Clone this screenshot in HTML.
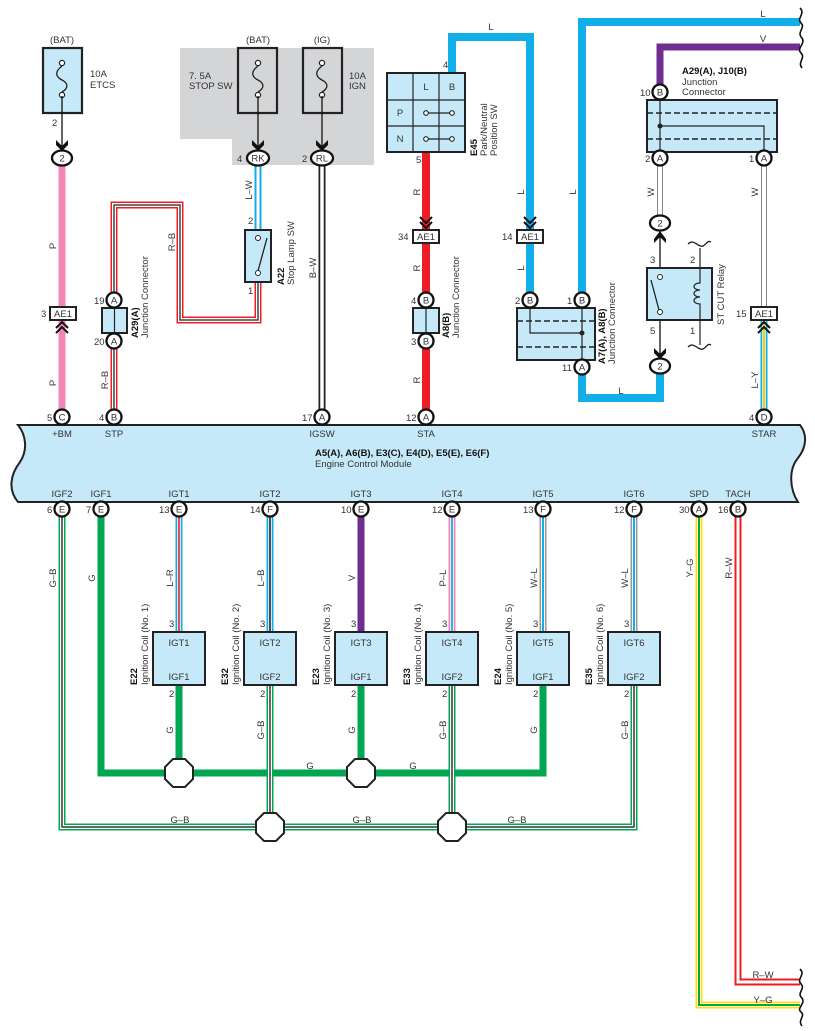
<!DOCTYPE html>
<html><head><meta charset="utf-8"><style>
html,body{margin:0;padding:0;background:#fff}
svg{display:block}
text{font-family:"Liberation Sans",sans-serif;fill:#333;font-size:9.5px}
.b{font-weight:bold;fill:#111}
.c{text-anchor:middle}
</style></head><body>
<svg width="815" height="1031" viewBox="0 0 815 1031" xmlns="http://www.w3.org/2000/svg">
<defs>
<g id="fuse"><circle cx="0" cy="-17" r="2.6" fill="#fff" stroke="#222" stroke-width="1.2"/><circle cx="0" cy="15" r="2.6" fill="#fff" stroke="#222" stroke-width="1.2"/><path d="M0 -14 C-8 -8 -6 -3 0 0 C6 3 7 8 0 12" fill="none" stroke="#222" stroke-width="1.3"/></g>
<g id="arr"><polygon points="-6,-10 0,-4 6,-10 6,-5 0,1 -6,-5" fill="#111"/></g>
<g id="chevU"><path d="M-6 6 L0 0 L6 6 M-6 11 L0 5 L6 11" fill="none" stroke="#111" stroke-width="2"/></g>
<g id="chevD"><path d="M-6 -6 L0 0 L6 -6 M-6 -11 L0 -5 L6 -11" fill="none" stroke="#111" stroke-width="2"/></g>
<polygon id="oct" points="-6,-14 6,-14 14,-6 14,6 6,14 -6,14 -14,6 -14,-6" fill="#fff" stroke="#222" stroke-width="2"/>
</defs>

<!-- gray area -->
<polygon points="180,48 374,48 374,165 232,165 232,139 180,139" fill="#d4d5d7"/>

<!-- fuses -->
<text x="62" y="43" class="c">(BAT)</text>
<rect x="43" y="48" width="39" height="65" fill="#c6e9f9" stroke="#222" stroke-width="2.2"/>
<use href="#fuse" x="62" y="80"/>
<text x="90" y="77">10A</text><text x="90" y="88">ETCS</text>
<text x="258" y="43" class="c">(BAT)</text>
<rect x="238" y="48" width="39" height="65" fill="#d4d5d7" stroke="#222" stroke-width="2.2"/>
<use href="#fuse" x="258" y="80"/>
<text x="189" y="79">7. 5A</text><text x="189" y="89">STOP SW</text>
<text x="322" y="43" class="c">(IG)</text>
<rect x="303" y="48" width="39" height="65" fill="#d4d5d7" stroke="#222" stroke-width="2.2"/>
<use href="#fuse" x="322" y="80"/>
<text x="349" y="79">10A</text><text x="349" y="89">IGN</text>

<g stroke="#111" stroke-width="1.3">
<line x1="62" y1="96" x2="62" y2="146"/><line x1="258" y1="96" x2="258" y2="146"/><line x1="322" y1="96" x2="322" y2="146"/>
</g>
<use href="#arr" x="62" y="150"/><use href="#arr" x="258" y="150"/><use href="#arr" x="322" y="150"/>
<text x="52" y="126">2</text>

<!-- WIRES -->
<g fill="none" stroke-linejoin="miter">
<!-- P -->
<path d="M62 166 V409" stroke="#f286b6" stroke-width="7"/>
<!-- R-B -->
<path d="M258 282 V320 H180 V205 H114 V292 M114 349 V409" stroke="#ee1c25" stroke-width="7"/>
<path d="M258 282 V320 H180 V205 H114 V292 M114 349 V409" stroke="#fff" stroke-width="4"/>
<path d="M258 282 V320 H180 V205 H114 V292 M114 349 V409" stroke="#444" stroke-width="1.5"/>
<!-- L-W -->
<path d="M258 166 V230" stroke="#12aee8" stroke-width="7"/><path d="M258 166 V230" stroke="#fff" stroke-width="3"/>
<!-- B-W -->
<path d="M322 166 V409" stroke="#222" stroke-width="7"/><path d="M322 166 V409" stroke="#fff" stroke-width="3.5"/>
<!-- R -->
<path d="M426 152 V230 M426 243 V292 M426 349 V409" stroke="#ee1c25" stroke-width="8"/>
<!-- L -->
<path d="M452 73 V37 H530 V230 M530 243 V292" stroke="#12aee8" stroke-width="8"/>
<path d="M582 292 V22 H800" stroke="#12aee8" stroke-width="8"/>
<path d="M582 375 V398 H660 V374" stroke="#12aee8" stroke-width="8"/>
<!-- V -->
<path d="M660 84 V47 H800" stroke="#6f2c91" stroke-width="7"/>
<!-- W -->
<path d="M660 166 V215 M764 166 V307" stroke="#888" stroke-width="6"/>
<path d="M660 166 V215 M764 166 V307" stroke="#fff" stroke-width="4"/>
<!-- L-Y -->
<path d="M764 320 V409" stroke="#12aee8" stroke-width="7"/><path d="M764 320 V409" stroke="#fff" stroke-width="3.5"/><path d="M764 320 V409" stroke="#f5d000" stroke-width="2"/>

<!-- G -->
<path d="M101 517 V773 H543 V685 M179 685 V773 M361 685 V773" stroke="#00a651" stroke-width="7"/>
<!-- G-B -->
<path d="M62 517 V827 H634 V685 M270 685 V827 M452 685 V827" stroke="#00a651" stroke-width="7"/>
<path d="M62 517 V827 H634 V685 M270 685 V827 M452 685 V827" stroke="#fff" stroke-width="4"/>
<path d="M62 517 V827 H634 V685 M270 685 V827 M452 685 V827" stroke="#333" stroke-width="1.5"/>
<!-- coil wires -->
<path d="M179 517 V632" stroke="#12aee8" stroke-width="7"/><path d="M179 517 V632" stroke="#fff" stroke-width="3.5"/><path d="M179 517 V632" stroke="#ee1c25" stroke-width="1.6"/>
<path d="M270 517 V632" stroke="#12aee8" stroke-width="7"/><path d="M270 517 V632" stroke="#fff" stroke-width="3.5"/><path d="M270 517 V632" stroke="#222" stroke-width="1.6"/>
<path d="M361 517 V632" stroke="#6f2c91" stroke-width="7"/>
<path d="M452 517 V632" stroke="#f286b6" stroke-width="7"/><path d="M452 517 V632" stroke="#fff" stroke-width="3.5"/><path d="M452 517 V632" stroke="#12aee8" stroke-width="1.8"/>
<path d="M543 517 V632 M634 517 V632" stroke="#999" stroke-width="7"/><path d="M543 517 V632 M634 517 V632" stroke="#fff" stroke-width="4"/><path d="M543 517 V632 M634 517 V632" stroke="#12aee8" stroke-width="2"/>
<!-- Y-G, R-W -->
<path d="M699 517 V1005 H800" stroke="#ffe000" stroke-width="7"/><path d="M699 517 V1005 H800" stroke="#fff" stroke-width="3.5"/><path d="M699 517 V1005 H800" stroke="#00a651" stroke-width="2"/>
<path d="M738 517 V982 H800" stroke="#ee1c25" stroke-width="7"/><path d="M738 517 V982 H800" stroke="#fff" stroke-width="3"/>
<!-- squiggles -->
<path d="M800 8 C806 14 796 18 801 23 C806 28 796 32 802 38 C806 44 796 48 801 53 C806 58 797 62 802 68" stroke="#111" stroke-width="1.6"/>
<path d="M800 969 C806 975 796 979 801 984 C806 989 796 993 802 998 C806 1004 796 1008 801 1012 C806 1016 797 1020 802 1026" stroke="#111" stroke-width="1.6"/>
</g>

<!-- wire labels -->
<g>
<text transform="translate(56,246) rotate(-90)" class="c">P</text>
<text transform="translate(56,383) rotate(-90)" class="c">P</text>
<text transform="translate(252,190) rotate(-90)" class="c">L–W</text>
<text transform="translate(175,242) rotate(-90)" class="c">R–B</text>
<text transform="translate(108,380) rotate(-90)" class="c">R–B</text>
<text transform="translate(316,268) rotate(-90)" class="c">B–W</text>
<text transform="translate(420,192) rotate(-90)" class="c">R</text>
<text transform="translate(420,268) rotate(-90)" class="c">R</text>
<text transform="translate(420,380) rotate(-90)" class="c">R</text>
<text transform="translate(524,192) rotate(-90)" class="c">L</text>
<text transform="translate(524,268) rotate(-90)" class="c">L</text>
<text transform="translate(576,192) rotate(-90)" class="c">L</text>
<text x="491" y="30" class="c">L</text>
<text x="763" y="17" class="c">L</text>
<text x="763" y="42" class="c">V</text>
<text x="621" y="394" class="c">L</text>
<text transform="translate(654,192) rotate(-90)" class="c">W</text>
<text transform="translate(758,192) rotate(-90)" class="c">W</text>
<text transform="translate(758,380) rotate(-90)" class="c">L–Y</text>
<text transform="translate(56,578) rotate(-90)" class="c">G–B</text>
<text transform="translate(95,578) rotate(-90)" class="c">G</text>
<text transform="translate(173,578) rotate(-90)" class="c">L–R</text>
<text transform="translate(264,578) rotate(-90)" class="c">L–B</text>
<text transform="translate(355,578) rotate(-90)" class="c">V</text>
<text transform="translate(446,578) rotate(-90)" class="c">P–L</text>
<text transform="translate(537,578) rotate(-90)" class="c">W–L</text>
<text transform="translate(628,578) rotate(-90)" class="c">W–L</text>
<text transform="translate(693,568) rotate(-90)" class="c">Y–G</text>
<text transform="translate(732,568) rotate(-90)" class="c">R–W</text>
<text transform="translate(173,730) rotate(-90)" class="c">G</text>
<text transform="translate(264,730) rotate(-90)" class="c">G–B</text>
<text transform="translate(355,730) rotate(-90)" class="c">G</text>
<text transform="translate(446,730) rotate(-90)" class="c">G–B</text>
<text transform="translate(537,730) rotate(-90)" class="c">G</text>
<text transform="translate(628,730) rotate(-90)" class="c">G–B</text>
<text x="310" y="769" class="c">G</text><text x="413" y="769" class="c">G</text>
<text x="180" y="823" class="c">G–B</text><text x="362" y="823" class="c">G–B</text><text x="517" y="823" class="c">G–B</text>
<text x="763" y="978" class="c">R–W</text><text x="763" y="1003" class="c">Y–G</text>
</g>

<!-- octagons -->
<use href="#oct" x="179" y="773"/><use href="#oct" x="361" y="773"/>
<use href="#oct" x="270" y="827"/><use href="#oct" x="452" y="827"/>

<!-- A22 stop lamp sw -->
<rect x="245" y="230" width="26" height="52" fill="#c6e9f9" stroke="#222" stroke-width="2"/>
<circle cx="258" cy="238" r="2.5" fill="#fff" stroke="#222"/><circle cx="258" cy="273" r="2.5" fill="#fff" stroke="#222"/>
<line x1="258" y1="271" x2="267" y2="238" stroke="#222" stroke-width="1.3"/>
<text x="248" y="224">2</text><text x="248" y="294">1</text>
<text transform="translate(284,285) rotate(-90)" class="b">A22</text>
<text transform="translate(294,285) rotate(-90)">Stop Lamp SW</text>

<!-- A29(A) -->
<rect x="102" y="308" width="25" height="25" fill="#c6e9f9" stroke="#222" stroke-width="2"/>
<line x1="114.5" y1="308" x2="114.5" y2="333" stroke="#222" stroke-width="1.2"/>
<text transform="translate(138,338) rotate(-90)" class="b">A29(A)</text>
<text transform="translate(148,338) rotate(-90)">Junction Connector</text>

<!-- A8(B) -->
<rect x="413" y="308" width="26" height="25" fill="#c6e9f9" stroke="#222" stroke-width="2"/>
<line x1="426" y1="308" x2="426" y2="333" stroke="#222" stroke-width="1.2"/>
<text transform="translate(449,338) rotate(-90)" class="b">A8(B)</text>
<text transform="translate(459,338) rotate(-90)">Junction Connector</text>

<!-- E45 -->
<rect x="387" y="73" width="78" height="79" fill="#c6e9f9" stroke="#222" stroke-width="2"/>
<path d="M413 73 V152 M439 73 V152 M387 100 H465 M387 126 H465" stroke="#222" stroke-width="1.2"/>
<text x="426" y="90" class="c">L</text><text x="452" y="90" class="c">B</text>
<text x="400" y="116" class="c">P</text><text x="400" y="142" class="c">N</text>
<path d="M426 113 H452 M426 139 H452" stroke="#222" stroke-width="1.2"/>
<g fill="#fff" stroke="#222" stroke-width="1.1"><circle cx="426" cy="113" r="2.3"/><circle cx="452" cy="113" r="2.3"/><circle cx="426" cy="139" r="2.3"/><circle cx="452" cy="139" r="2.3"/></g>
<text x="443" y="68">4</text><text x="416" y="163">5</text>
<text transform="translate(477,156) rotate(-90)" class="b">E45</text>
<text transform="translate(487,156) rotate(-90)">Park/Neutral</text>
<text transform="translate(497,156) rotate(-90)">Position SW</text>

<!-- A7/A8 junction -->
<rect x="517" y="308" width="78" height="52" fill="#c6e9f9" stroke="#222" stroke-width="2"/>
<path d="M517 321 H595 M517 347 H595" stroke="#222" stroke-width="1.5" stroke-dasharray="6,3"/>
<path d="M530 308 V333 H582 M582 308 V360" stroke="#222" stroke-width="1.2" fill="none"/>
<circle cx="582" cy="333" r="2.5" fill="#222"/>
<text transform="translate(605,364) rotate(-90)" class="b">A7(A), A8(B)</text>
<text transform="translate(615,364) rotate(-90)">Junction Connector</text>

<!-- A29/J10 junction -->
<rect x="647" y="100" width="130" height="52" fill="#c6e9f9" stroke="#222" stroke-width="2"/>
<path d="M647 113 H777 M647 139 H777" stroke="#222" stroke-width="1.5" stroke-dasharray="6,3"/>
<path d="M660 100 V152 M660 126 H764 V152" stroke="#222" stroke-width="1.2" fill="none"/>
<circle cx="660" cy="126" r="2.5" fill="#222"/>
<text x="682" y="74" class="b">A29(A), J10(B)</text>
<text x="682" y="85">Junction</text><text x="682" y="95">Connector</text>

<!-- ST CUT relay -->
<line x1="660" y1="231" x2="660" y2="268" stroke="#111" stroke-width="1.3"/>
<polygon points="654,243 660,237 666,243 666,239 660,231 654,239" fill="#111"/>
<line x1="660" y1="320" x2="660" y2="356" stroke="#111" stroke-width="1.3"/>
<use href="#arr" x="660" y="358"/>
<rect x="647" y="268" width="65" height="52" fill="#c6e9f9" stroke="#222" stroke-width="2"/>
<circle cx="660" cy="277" r="2.5" fill="#fff" stroke="#222"/><circle cx="660" cy="312" r="2.5" fill="#fff" stroke="#222"/>
<line x1="651" y1="280" x2="659" y2="310" stroke="#222" stroke-width="1.3"/>
<path d="M700 248 V283 C692 283 692 290 700 290 C692 290 692 297 700 297 C692 297 692 304 700 304 V345" fill="none" stroke="#222" stroke-width="1.2"/>
<path d="M688 244 C694 238 698 248 703 246 C707 244 707 240 711 242" fill="none" stroke="#222" stroke-width="1.3"/>
<path d="M688 347 C694 341 698 351 703 349 C707 347 707 343 711 345" fill="none" stroke="#222" stroke-width="1.3"/>
<text x="650" y="263">3</text><text x="690" y="263">2</text><text x="650" y="334">5</text><text x="690" y="334">1</text>
<text transform="translate(724,325) rotate(-90)">ST CUT Relay</text>

<!-- AE1 boxes + chevrons -->
<g fill="#fff" stroke="#222" stroke-width="2">
<rect x="50" y="307" width="26" height="13"/><rect x="413" y="230" width="26" height="13"/>
<rect x="517" y="230" width="26" height="13"/><rect x="751" y="307" width="26" height="13"/>
</g>
<text x="63" y="317" class="c">AE1</text><text x="426" y="240" class="c">AE1</text>
<text x="530" y="240" class="c">AE1</text><text x="764" y="317" class="c">AE1</text>
<text x="41" y="317">3</text><text x="398" y="240">34</text><text x="502" y="240">14</text><text x="736" y="317">15</text>
<use href="#chevU" x="62" y="322"/><use href="#chevU" x="764" y="322"/>
<use href="#chevD" x="426" y="228"/><use href="#chevD" x="530" y="228"/>

<!-- ECM -->
<path d="M18 425 L800 425 C808 435 806 448 798 458 C788 470 790 490 798 502 L18 502 C8 490 10 475 20 462 C28 450 26 435 18 425 Z" fill="#c6e9f9" stroke="#222" stroke-width="2"/>
<text x="315" y="456" class="b">A5(A), A6(B), E3(C), E4(D), E5(E), E6(F)</text>
<text x="315" y="467">Engine Control Module</text>
<g class="c">
<text x="62" y="437" class="c">+BM</text><text x="114" y="437" class="c">STP</text><text x="322" y="437" class="c">IGSW</text>
<text x="426" y="437" class="c">STA</text><text x="764" y="437" class="c">STAR</text>
<text x="62" y="497" class="c">IGF2</text><text x="101" y="497" class="c">IGF1</text><text x="179" y="497" class="c">IGT1</text>
<text x="270" y="497" class="c">IGT2</text><text x="361" y="497" class="c">IGT3</text><text x="452" y="497" class="c">IGT4</text>
<text x="543" y="497" class="c">IGT5</text><text x="634" y="497" class="c">IGT6</text><text x="699" y="497" class="c">SPD</text><text x="738" y="497" class="c">TACH</text>
</g>

<!-- coils -->
<g>
<rect x="153" y="632" width="52" height="53" fill="#c6e9f9" stroke="#222" stroke-width="2"/>
<rect x="244" y="632" width="52" height="53" fill="#c6e9f9" stroke="#222" stroke-width="2"/>
<rect x="335" y="632" width="52" height="53" fill="#c6e9f9" stroke="#222" stroke-width="2"/>
<rect x="426" y="632" width="52" height="53" fill="#c6e9f9" stroke="#222" stroke-width="2"/>
<rect x="517" y="632" width="52" height="53" fill="#c6e9f9" stroke="#222" stroke-width="2"/>
<rect x="608" y="632" width="52" height="53" fill="#c6e9f9" stroke="#222" stroke-width="2"/>
<text x="179" y="646" class="c">IGT1</text><text x="179" y="680" class="c">IGF1</text>
<text x="270" y="646" class="c">IGT2</text><text x="270" y="680" class="c">IGF2</text>
<text x="361" y="646" class="c">IGT3</text><text x="361" y="680" class="c">IGF1</text>
<text x="452" y="646" class="c">IGT4</text><text x="452" y="680" class="c">IGF2</text>
<text x="543" y="646" class="c">IGT5</text><text x="543" y="680" class="c">IGF1</text>
<text x="634" y="646" class="c">IGT6</text><text x="634" y="680" class="c">IGF2</text>
<text x="169" y="627">3</text><text x="169" y="697">2</text>
<text x="260" y="627">3</text><text x="260" y="697">2</text>
<text x="351" y="627">3</text><text x="351" y="697">2</text>
<text x="442" y="627">3</text><text x="442" y="697">2</text>
<text x="533" y="627">3</text><text x="533" y="697">2</text>
<text x="624" y="627">3</text><text x="624" y="697">2</text>
<text transform="translate(137,685) rotate(-90)" class="b">E22</text><text transform="translate(148,685) rotate(-90)">Ignition Coil (No. 1)</text>
<text transform="translate(228,685) rotate(-90)" class="b">E32</text><text transform="translate(239,685) rotate(-90)">Ignition Coil (No. 2)</text>
<text transform="translate(319,685) rotate(-90)" class="b">E23</text><text transform="translate(330,685) rotate(-90)">Ignition Coil (No. 3)</text>
<text transform="translate(410,685) rotate(-90)" class="b">E33</text><text transform="translate(421,685) rotate(-90)">Ignition Coil (No. 4)</text>
<text transform="translate(501,685) rotate(-90)" class="b">E24</text><text transform="translate(512,685) rotate(-90)">Ignition Coil (No. 5)</text>
<text transform="translate(592,685) rotate(-90)" class="b">E35</text><text transform="translate(603,685) rotate(-90)">Ignition Coil (No. 6)</text>
</g>

<!-- connector circles -->
<g fill="#fff" stroke="#111" stroke-width="2.3">
<ellipse cx="62" cy="158" rx="10" ry="7.5"/><ellipse cx="258" cy="158" rx="11" ry="7.5"/><ellipse cx="322" cy="158" rx="11" ry="7.5"/>
<circle cx="114" cy="300" r="7.5"/><circle cx="114" cy="341" r="7.5"/>
<circle cx="426" cy="300" r="7.5"/><circle cx="426" cy="341" r="7.5"/>
<circle cx="530" cy="300" r="7.5"/><circle cx="582" cy="300" r="7.5"/><circle cx="582" cy="367" r="7.5"/>
<circle cx="660" cy="92" r="7.5"/><circle cx="660" cy="158" r="7.5"/><circle cx="764" cy="158" r="7.5"/>
<ellipse cx="660" cy="223" rx="10" ry="7.5"/><ellipse cx="660" cy="366" rx="10" ry="7.5"/>
<circle cx="62" cy="417" r="7.5"/><circle cx="114" cy="417" r="7.5"/><circle cx="322" cy="417" r="7.5"/><circle cx="426" cy="417" r="7.5"/><circle cx="764" cy="417" r="7.5"/>
<circle cx="62" cy="509" r="7.5"/><circle cx="101" cy="509" r="7.5"/><circle cx="179" cy="509" r="7.5"/><circle cx="270" cy="509" r="7.5"/>
<circle cx="361" cy="509" r="7.5"/><circle cx="452" cy="509" r="7.5"/><circle cx="543" cy="509" r="7.5"/><circle cx="634" cy="509" r="7.5"/>
<circle cx="699" cy="509" r="7.5"/><circle cx="738" cy="509" r="7.5"/>
</g>
<g style="font-size:9px">
<text x="62" y="161.5" class="c">2</text><text x="258" y="161.5" class="c">RK</text><text x="322" y="161.5" class="c">RL</text>
<text x="114" y="303.5" class="c">A</text><text x="114" y="344.5" class="c">A</text>
<text x="426" y="303.5" class="c">B</text><text x="426" y="344.5" class="c">B</text>
<text x="530" y="303.5" class="c">B</text><text x="582" y="303.5" class="c">B</text><text x="582" y="370.5" class="c">A</text>
<text x="660" y="95.5" class="c">B</text><text x="660" y="161.5" class="c">A</text><text x="764" y="161.5" class="c">A</text>
<text x="660" y="226.5" class="c">2</text><text x="660" y="369.5" class="c">2</text>
<text x="62" y="420.5" class="c">C</text><text x="114" y="420.5" class="c">B</text><text x="322" y="420.5" class="c">A</text><text x="426" y="420.5" class="c">A</text><text x="764" y="420.5" class="c">D</text>
<text x="62" y="512.5" class="c">E</text><text x="101" y="512.5" class="c">E</text><text x="179" y="512.5" class="c">E</text><text x="270" y="512.5" class="c">F</text>
<text x="361" y="512.5" class="c">E</text><text x="452" y="512.5" class="c">E</text><text x="543" y="512.5" class="c">F</text><text x="634" y="512.5" class="c">F</text>
<text x="699" y="512.5" class="c">A</text><text x="738" y="512.5" class="c">B</text>
</g>
<!-- pin numbers -->
<g>
<text x="237" y="162">4</text><text x="302" y="162">2</text>
<text x="94" y="304">19</text><text x="94" y="345">20</text>
<text x="411" y="304">4</text><text x="411" y="345">3</text>
<text x="515" y="304">2</text><text x="567" y="304">1</text><text x="562" y="371">11</text>
<text x="640" y="96">10</text><text x="645" y="162">2</text><text x="749" y="162">1</text>
<text x="47" y="421">5</text><text x="99" y="421">4</text><text x="302" y="421">17</text><text x="406" y="421">12</text><text x="749" y="421">4</text>
<text x="47" y="513">6</text><text x="86" y="513">7</text><text x="159" y="513">13</text><text x="250" y="513">14</text>
<text x="341" y="513">10</text><text x="432" y="513">12</text><text x="523" y="513">13</text><text x="614" y="513">12</text>
<text x="679" y="513">30</text><text x="718" y="513">16</text>
</g>
</svg>
</body></html>
